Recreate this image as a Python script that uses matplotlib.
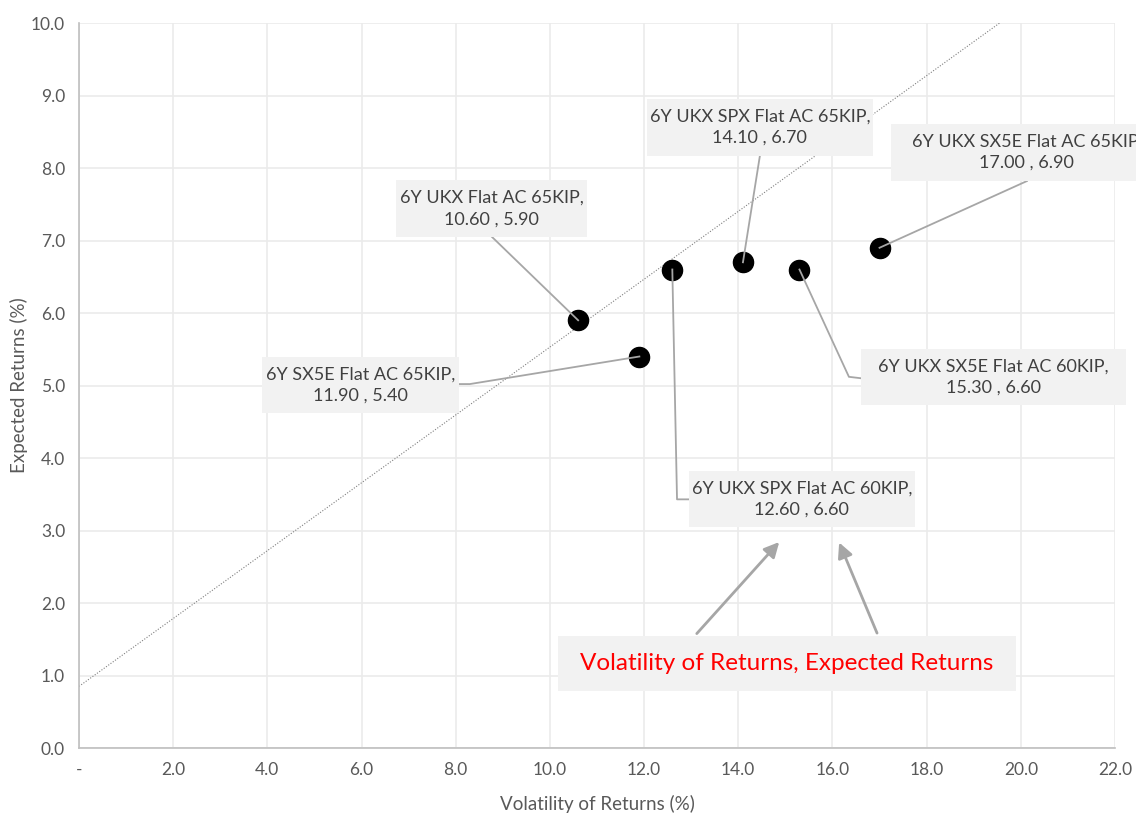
import matplotlib
import numpy as np

matplotlib.use("Agg")
import matplotlib.pyplot as plt
from matplotlib.patches import Rectangle

# series values
names = [
  "6Y UKX Flat AC 65KIP",
  "6Y SX5E Flat AC 65KIP",
  "6Y UKX SPX Flat AC 60KIP",
  "6Y UKX SPX Flat AC 65KIP",
  "6Y UKX SX5E Flat AC 60KIP",
  "6Y UKX SX5E Flat AC 65KIP",
]
volatility = [10.6, 11.9, 12.6, 14.1, 15.3, 17.0]
expected_returns = [5.9, 5.4, 6.6, 6.7, 6.6, 6.9]

# dotted reference line
trend_intercept = 0.85
trend_slope = 0.468

x_ticks = [0, 2, 4, 6, 8, 10, 12, 14, 16, 18, 20, 22]
x_tick_labels = ["-", "2.0", "4.0", "6.0", "8.0", "10.0", "12.0", "14.0", "16.0", "18.0", "20.0", "22.0"]
y_ticks = [0, 1, 2, 3, 4, 5, 6, 7, 8, 9, 10]

callout_text = "Volatility of Returns, Expected Returns"

# label layout: box (x0, x1, y0, y1), leader path from box towards the point
label_layout = [
  {"box": (6.73, 10.79, 7.05, 7.83), "leader": [(8.77, 7.05)]},
  {"box": (3.89, 8.07, 4.62, 5.39), "leader": [(8.07, 5.02), (8.30, 5.02)]},
  {"box": (12.95, 17.75, 3.05, 3.82), "leader": [(12.95, 3.43), (12.70, 3.43)]},
  {"box": (12.06, 16.86, 8.17, 8.95), "leader": [(14.46, 8.17)]},
  {"box": (16.61, 22.23, 4.73, 5.50), "leader": [(16.61, 5.10), (16.35, 5.12)]},
  {"box": (17.24, 23.02, 7.82, 8.61), "leader": [(20.13, 7.82)]},
]
callout_box = (10.17, 19.90, 0.79, 1.55)

TEXT = "#404040"
TICK = "#595959"
GRID = "#EBEBEB"
BOX = "#F2F2F2"
LEADER = "#A6A6A6"
FONT = ["Lato", "DejaVu Sans"]

plt.rcParams["font.family"] = FONT

fig = plt.figure(figsize=(11.36, 8.16), dpi=100)
ax = fig.add_axes([0.0695, 0.0833, 0.912, 0.8885])

ax.set_xlim(0, 22)
ax.set_ylim(0, 10)
ax.set_xticks(x_ticks)
ax.set_xticklabels(x_tick_labels)
ax.set_yticks(y_ticks)
ax.set_yticklabels([f"{v:.1f}" for v in y_ticks])
ax.tick_params(length=0, labelsize=12.5, colors=TICK, pad=10)
ax.grid(True, color=GRID, linewidth=1.2, zorder=0)
ax.set_axisbelow(True)
for side in ["top", "right"]:
  ax.spines[side].set_visible(False)
for side in ["left", "bottom"]:
  ax.spines[side].set_color("#BFBFBF")
  ax.spines[side].set_linewidth(1.2)

ax.set_xlabel("Volatility of Returns (%)", fontsize=13.5, color=TICK, labelpad=12)
ax.set_ylabel("Expected Returns (%)", fontsize=13.5, color=TICK, labelpad=2)

tx = np.array([0, 22])
ax.plot(tx, trend_intercept + trend_slope * tx, linestyle=(0, (1, 1.5)),
        color="#7F7F7F", linewidth=0.8, zorder=2)

ax.scatter(volatility, expected_returns, s=210, color="black", zorder=3)


def draw_box(box, text, **kw):
  x0, x1, y0, y1 = box
  ax.add_patch(Rectangle((x0, y0), x1 - x0, y1 - y0, facecolor=BOX,
                         edgecolor="none", zorder=5, clip_on=False))
  ax.text((x0 + x1) / 2, (y0 + y1) / 2, text, ha="center", va="center",
          zorder=6, clip_on=False, **kw)


for name, x, y, lay in zip(names, volatility, expected_returns, label_layout):
  path = lay["leader"] + [(x, y)]
  ax.plot([p[0] for p in path], [p[1] for p in path], color=LEADER,
          linewidth=1.3, zorder=4)
  draw_box(lay["box"], f"{name},\n{x:.2f} , {y:.2f}", fontsize=13,
           color=TEXT, linespacing=1.4)

draw_box(callout_box, callout_text, fontsize=17.5, color="#FF0000")
arrow_style = dict(arrowstyle="-|>,head_length=0.9,head_width=0.45",
                   color=LEADER, linewidth=2)
ax.annotate("", xy=(14.91, 2.87), xytext=(13.08, 1.55), arrowprops=arrow_style, zorder=5)
ax.annotate("", xy=(16.12, 2.87), xytext=(16.97, 1.55), arrowprops=arrow_style, zorder=5)

fig.savefig("out.png", dpi=100)
